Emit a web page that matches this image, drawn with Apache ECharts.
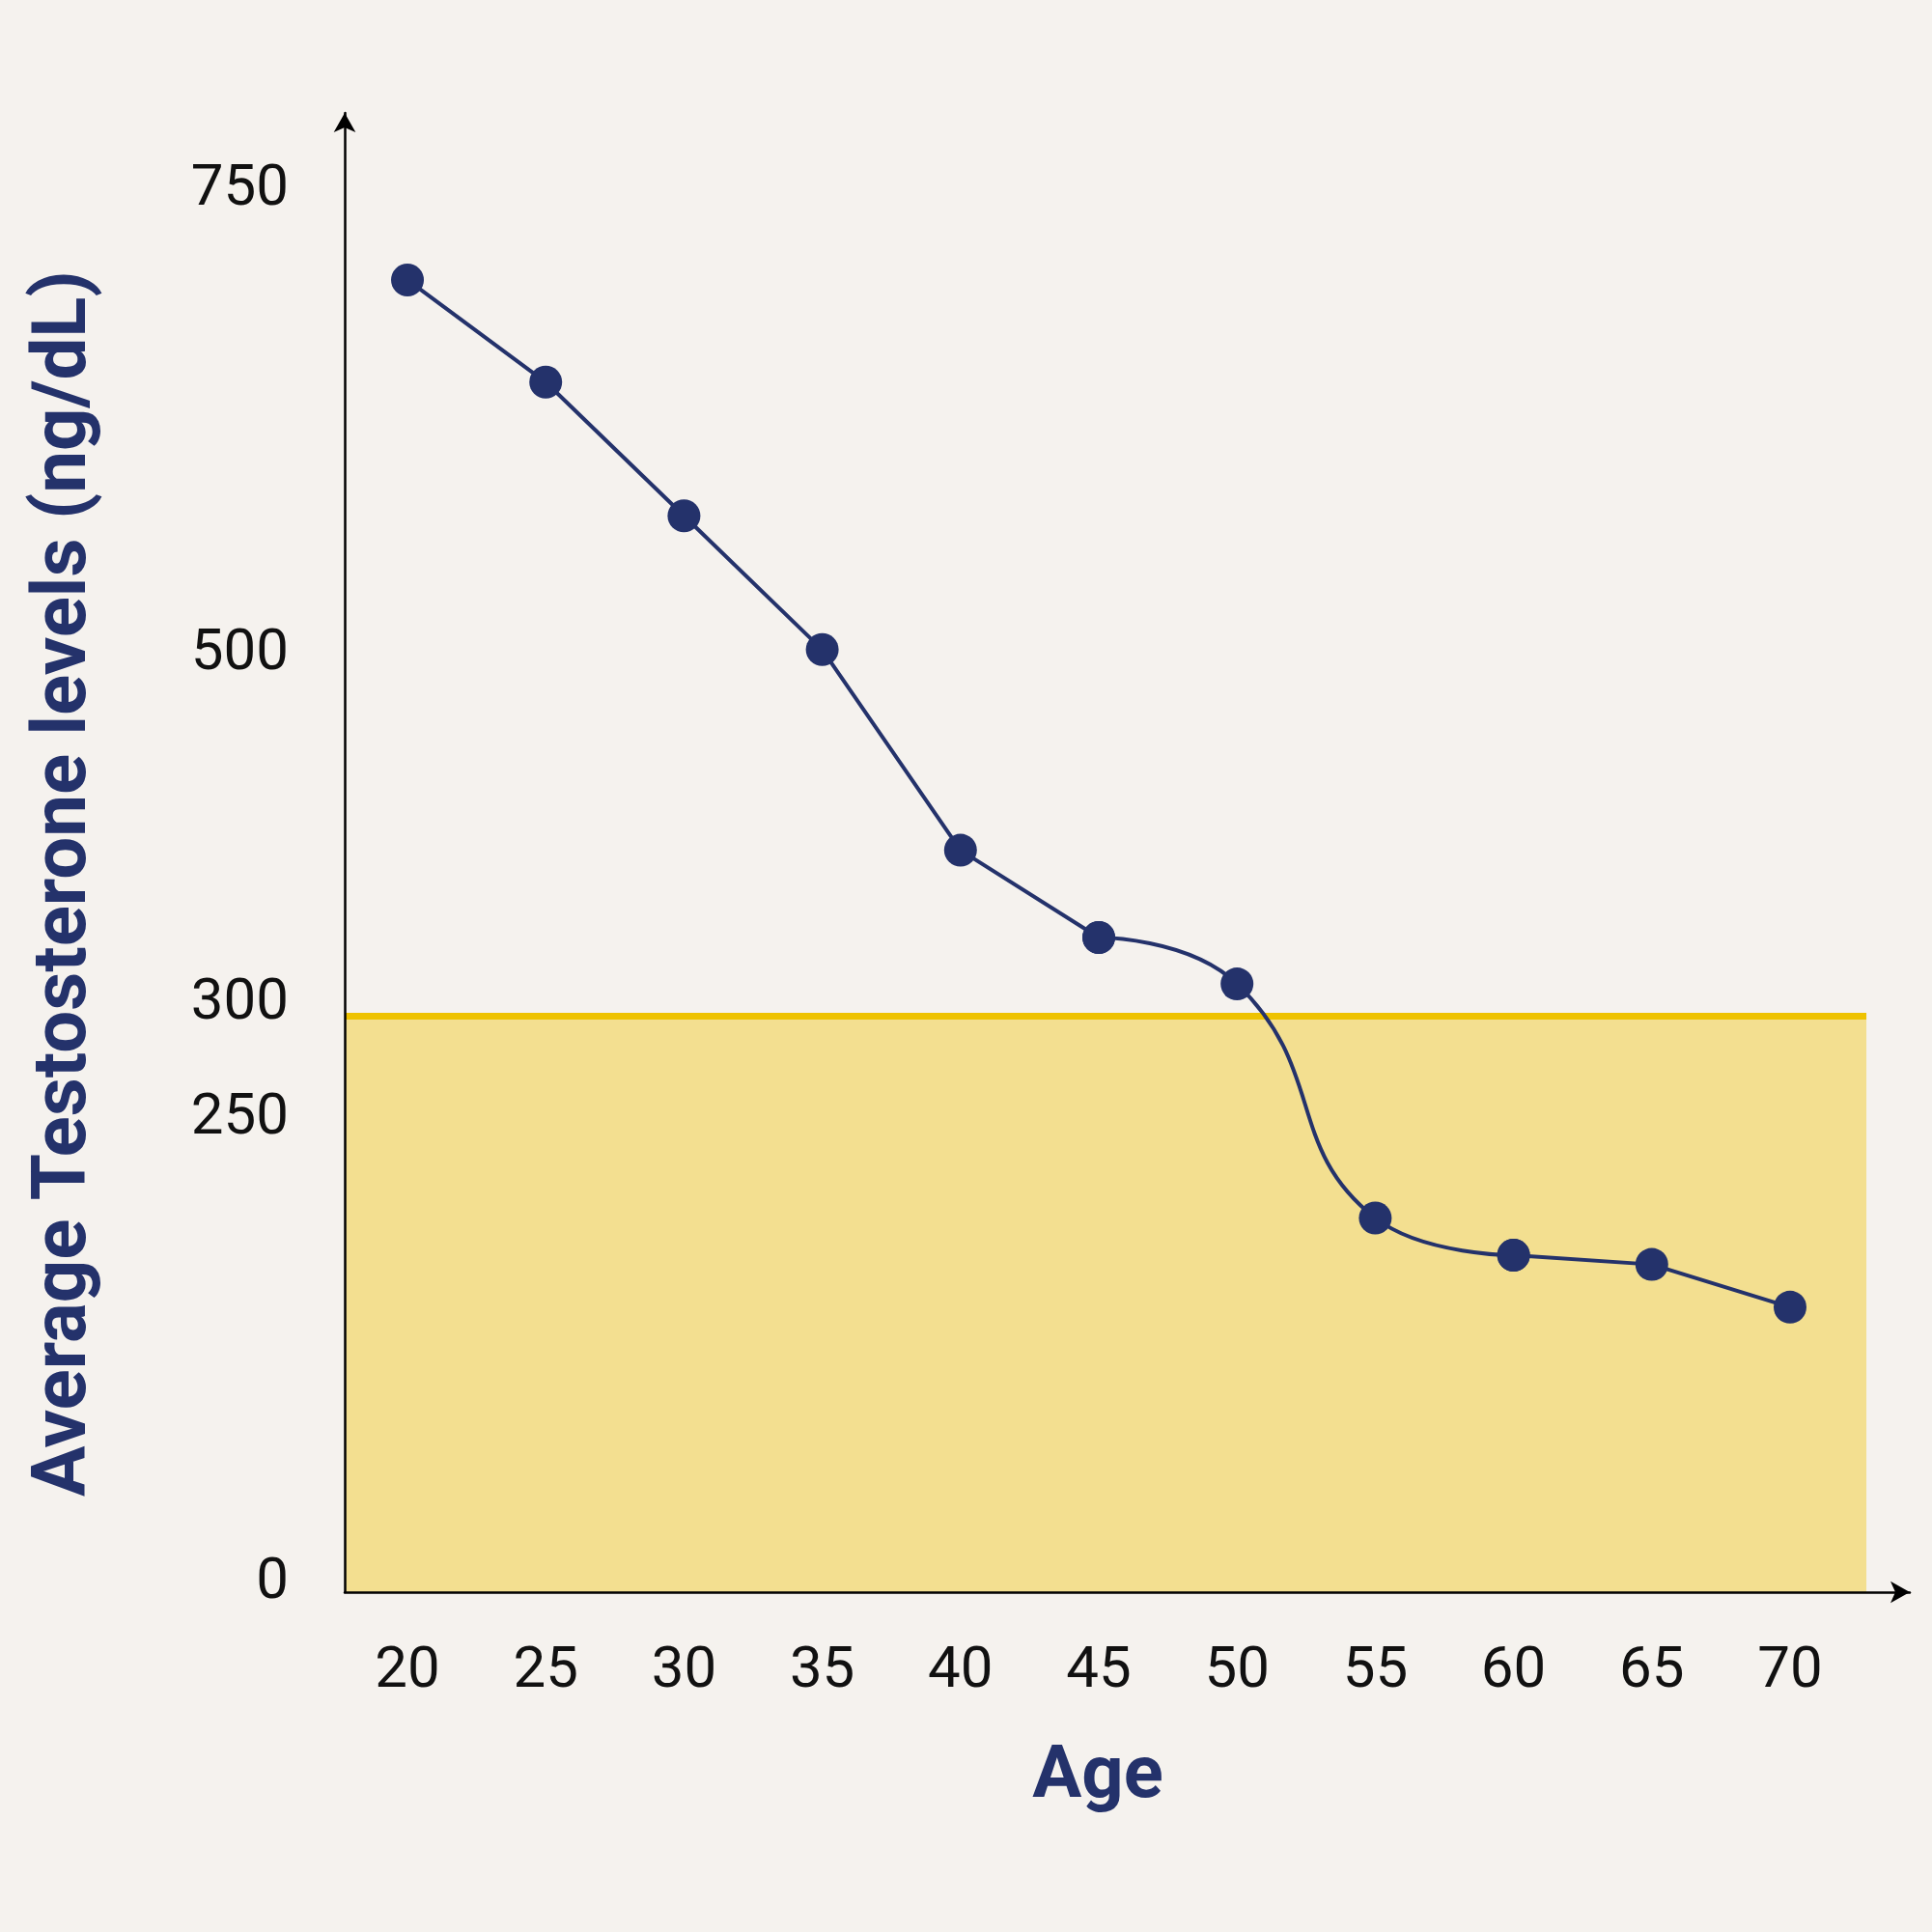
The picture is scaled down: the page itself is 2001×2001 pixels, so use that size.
<!DOCTYPE html>
<html>
<head>
<meta charset="utf-8">
<script src="https://cdn.jsdelivr.net/npm/echarts@6/dist/echarts.min.js"></script>
<style>
html,body{margin:0;padding:0;background:#F5F2EE;}
#chart{width:2001px;height:2001px;}
</style>
</head>
<body>
<div id="chart"></div>
<script>
const ages = [20, 25, 30, 35, 40, 45, 50, 55, 60, 65, 70];
const levels = [700, 645, 573, 501, 393, 346, 321, 195, 175, 170, 147];
const yTicks = [0, 250, 300, 500, 750];
const threshold = 300;
const bandTop = 304;
const bandEndAge = 72.76;
const xTitle = 'Age';
const yTitle = 'Average Testosterone levels (ng/dL)';

const navy = '#24326B';
const xMin = 17.73, xMax = 74.33, yMin = -6.4, yMax = 789.9;
const pts = ages.map((a, i) => [a, levels[i]]);
const part1 = pts.slice(0, 6);   // 20-45 straight
const part2 = pts.slice(5, 9);   // 45-60 smooth
const part3 = pts.slice(8);      // 60-70 straight

const chart = echarts.init(document.getElementById('chart'), null, {renderer: 'canvas'});
const lineSeries = (data, smooth) => ({
  type: 'line',
  data: data,
  smooth: smooth,
  symbol: 'circle',
  symbolSize: 34,
  itemStyle: {color: navy},
  lineStyle: {color: navy, width: 4},
  z: 5
});
const axisLine = {show: true, onZero: false, lineStyle: {color: '#000', width: 2.5}, symbol: ['none', 'arrow'], symbolSize: [17, 20]};
const lbl = {fontSize: 60, fontFamily: 'Roboto', color: '#111'};
chart.setOption({
  backgroundColor: '#F5F2EE',
  animation: false,
  grid: {left: 357, top: 117, width: 1978 - 357, height: 1649 - 117, containLabel: false},
  xAxis: {
    type: 'value',
    min: xMin,
    max: xMax,
    z: 10,
    axisLine: axisLine,
    axisTick: {show: false},
    splitLine: {show: false},
    axisLabel: Object.assign({customValues: ages, margin: 53}, lbl)
  },
  yAxis: {
    type: 'value',
    min: yMin,
    max: yMax,
    z: 10,
    axisLine: axisLine,
    axisTick: {show: false},
    splitLine: {show: false},
    axisLabel: Object.assign({
      customValues: yTicks,
      margin: 58,
      formatter: v => v === threshold ? '{up|' + v + '}' : '{n|' + v + '}',
      rich: {
        n: Object.assign({padding: [6, 0, 0, 0]}, lbl),
        up: Object.assign({padding: [0, 0, 40, 0]}, lbl)
      }
    }, lbl)
  },
  series: [
    Object.assign(lineSeries(part1, false), {
      markArea: {
        silent: true,
        itemStyle: {color: '#F3DF90'},
        data: [[{coord: [xMin, yMin]}, {coord: [bandEndAge, bandTop]}]]
      },
      markLine: {
        silent: true,
        symbol: ['none', 'none'],
        label: {show: false},
        lineStyle: {color: '#EEC200', width: 7, type: 'solid'},
        data: [[{coord: [xMin, bandTop]}, {coord: [bandEndAge, bandTop]}]]
      }
    }),
    lineSeries(part2, 0.5),
    lineSeries(part3, false)
  ],
  graphic: [
    {
      type: 'text', x: 1137, y: 1842,
      style: {text: xTitle, fontSize: 76, fontWeight: 'bold', fontFamily: 'Roboto', fill: navy, align: 'center', verticalAlign: 'middle'}
    },
    {
      type: 'text', x: 68, y: 915, rotation: Math.PI / 2,
      style: {text: yTitle, fontSize: 78, fontWeight: 'bold', fontFamily: 'Roboto', fill: navy, align: 'center', verticalAlign: 'middle'}
    }
  ]
});
</script>
</body>
</html>
